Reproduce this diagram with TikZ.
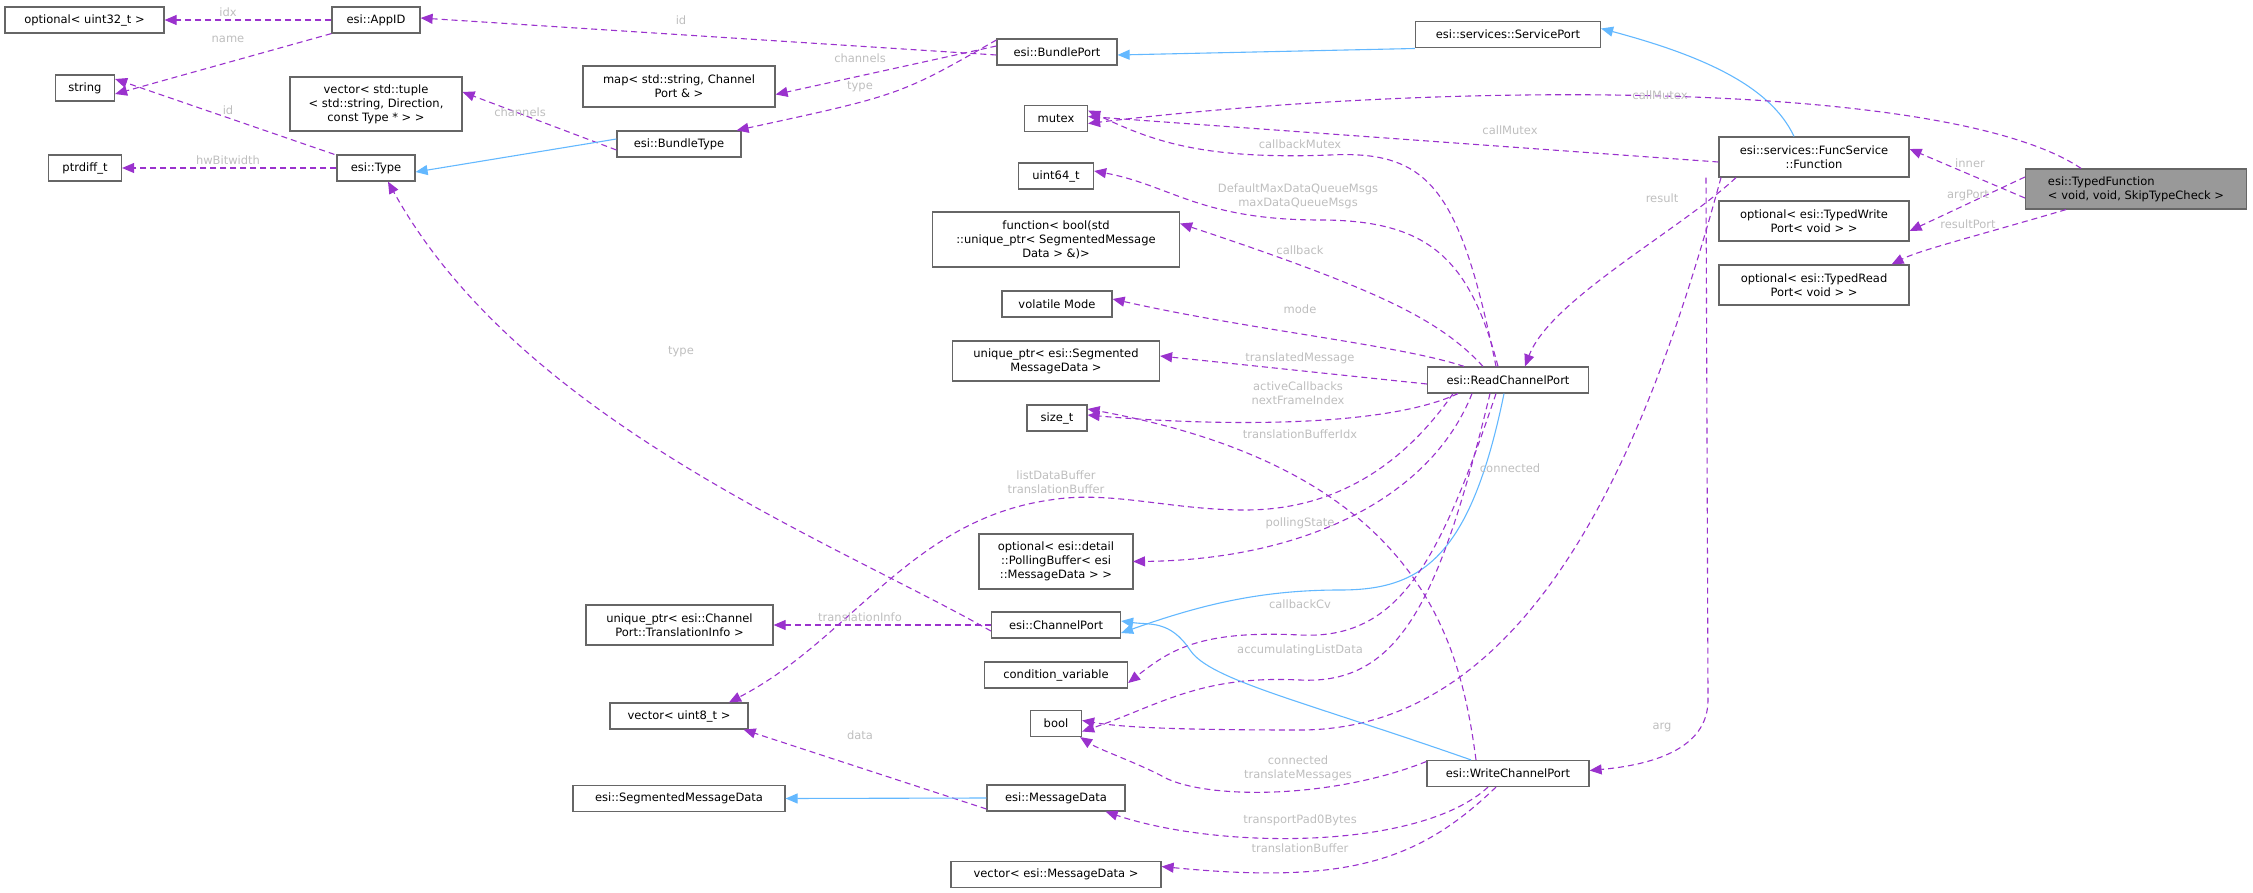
\documentclass[tikz,border=0pt]{standalone}
\usepackage{fontspec}
\setmainfont{DejaVu Sans}
\usetikzlibrary{arrows.meta}
\definecolor{dep}{HTML}{9A32CD}
\definecolor{inh}{HTML}{63B8FF}
\definecolor{lbl}{HTML}{BEBEBE}
\begin{document}
\begin{tikzpicture}[x=1pt,y=-1pt,
  box/.style={draw=black!60, fill=white, line width=1.2pt, font=\fontsize{11.5}{14}\selectfont, align=center, inner sep=0pt},
  dep/.style={draw=dep, dashed, dash pattern=on 6pt off 4pt, line width=1.1pt, -{Triangle[length=12pt,width=10pt]}},
  inh/.style={draw=inh, line width=1.1pt, -{Triangle[length=12pt,width=10pt]}},
  lab/.style={text=lbl, font=\fontsize{11.5}{14}\selectfont, align=center, inner sep=0pt}]
\useasboundingbox (0,0) rectangle (2253,893);
% nodes
\node[box, minimum width=159, minimum height=26] (optU32) at (84.5,20) {optional< uint32\_t >};
\node[box, minimum width=88, minimum height=26] (appid) at (376,20) {esi::AppID};
\node[box, minimum width=59, minimum height=26] (string) at (85,88) {string};
\node[box, minimum width=172, minimum height=54] (vectuple) at (376,104) {vector< std::tuple\\< std::string, Direction,\\const Type * > >};
\node[box, minimum width=192, minimum height=41] (mapstr) at (679,86.5) {map< std::string, Channel\\Port \& >};
\node[box, minimum width=124, minimum height=26] (bundletype) at (679,144) {esi::BundleType};
\node[box, minimum width=73, minimum height=26] (ptrdiff) at (85,168) {ptrdiff\_t};
\node[box, minimum width=78, minimum height=26] (type) at (376,168) {esi::Type};
\node[box, minimum width=187, minimum height=40] (uniqTI) at (679.5,625) {unique\_ptr< esi::Channel\\Port::TranslationInfo >};
\node[box, minimum width=138, minimum height=26] (vecu8) at (679,716) {vector< uint8\_t >};
\node[box, minimum width=212, minimum height=26] (segmsg) at (679,798.5) {esi::SegmentedMessageData};
\node[box, minimum width=120, minimum height=26] (bundleport) at (1057,52) {esi::BundlePort};
\node[box, minimum width=185, minimum height=26] (serviceport) at (1508,34.5) {esi::services::ServicePort};
\node[box, minimum width=63, minimum height=26] (mutex) at (1056,118.5) {mutex};
\node[box, minimum width=190, minimum height=40] (funcfn) at (1814,157) {esi::services::FuncService\\::Function};
\node[box, minimum width=221, minimum height=40, fill=black!40, align=left] (typedfn) at (2136,189) {esi::TypedFunction\\< void, void, SkipTypeCheck >};
\node[box, minimum width=190, minimum height=40] (optTW) at (1814,221) {optional< esi::TypedWrite\\Port< void > >};
\node[box, minimum width=190, minimum height=40] (optTR) at (1814,285) {optional< esi::TypedRead\\Port< void > >};
\node[box, minimum width=75, minimum height=26] (uint64) at (1056,176) {uint64\_t};
\node[box, minimum width=247, minimum height=55] (function) at (1056,239.5) {function< bool(std\\::unique\_ptr< SegmentedMessage\\Data > \&)>};
\node[box, minimum width=110, minimum height=26] (volatile) at (1057,304) {volatile Mode};
\node[box, minimum width=207, minimum height=40] (uniqSeg) at (1056,361) {unique\_ptr< esi::Segmented\\MessageData >};
\node[box, minimum width=60, minimum height=26] (sizet) at (1057,418) {size\_t};
\node[box, minimum width=161, minimum height=26] (readch) at (1508,380) {esi::ReadChannelPort};
\node[box, minimum width=154, minimum height=55] (optPoll) at (1056,561.5) {optional< esi::detail\\::PollingBuffer< esi\\::MessageData > >};
\node[box, minimum width=129, minimum height=26] (chport) at (1056,625) {esi::ChannelPort};
\node[box, minimum width=143, minimum height=26] (condvar) at (1056,675) {condition\_variable};
\node[box, minimum width=51, minimum height=26] (bool) at (1056,723.5) {bool};
\node[box, minimum width=138, minimum height=26] (msgdata) at (1056,798) {esi::MessageData};
\node[box, minimum width=210, minimum height=26] (vecmsg) at (1056,874.5) {vector< esi::MessageData >};
\node[box, minimum width=162, minimum height=26] (writech) at (1508,773.5) {esi::WriteChannelPort};
% edges
\draw[dep] (appid.west) -- (optU32.east);
\draw[dep] (appid.south west) -- ([yshift=-6]string.east);
\draw[dep] ([yshift=-3]bundleport.west) -- ([yshift=2]appid.east);
\draw[dep] ([yshift=6]bundleport.west) -- ([yshift=-8]mapstr.east);
\draw[dep] ([yshift=12]bundleport.west) .. controls (900,95) .. ([xshift=-5]bundletype.north east);
\draw[dep] ([yshift=-6]bundletype.west) -- ([yshift=12]vectuple.east);
\draw[inh] ([yshift=5]bundletype.west) -- ([yshift=-4]type.east);
\draw[dep] ([xshift=-2]type.north west) -- ([yshift=9]string.east);
\draw[dep] (type.west) -- (ptrdiff.east);
\draw[inh] ([yshift=-14]serviceport.west) -- ([yshift=-3]bundleport.east);
\draw[inh] ([xshift=-20]funcfn.north) .. controls (1770,85) and (1700,55) .. ([yshift=6]serviceport.east);
\draw[dep] ([xshift=-55]typedfn.north) .. controls (1950,80) and (1450,80) .. ([yshift=-5]mutex.east);
\draw[dep] ([yshift=-5]funcfn.west) -- ([yshift=2]mutex.east);
\draw[dep] ([xshift=-12]readch.north) .. controls (1460,190) and (1430,150) .. (1330,155) .. controls (1200,160) and (1150,140) .. ([yshift=8]mutex.east);
\draw[dep] ([xshift=-10]readch.north) .. controls (1470,260) and (1430,220) .. (1320,220) .. controls (1200,220) and (1170,185) .. ([yshift=5]uint64.east);
\draw[dep] ([xshift=-25]readch.north) .. controls (1440,320) and (1380,290) .. ([yshift=16]function.east);
\draw[dep] ([xshift=-44]readch.north) .. controls (1400,345) and (1250,330) .. ([yshift=5]volatile.east);
\draw[dep] ([yshift=-4]readch.west) -- ([yshift=5]uniqSeg.east);
\draw[dep] ([xshift=-50]readch.south) .. controls (1380,430) and (1200,425) .. ([yshift=3]sizet.east);
\draw[dep] ([xshift=-32]writech.north) .. controls (1460,640) and (1420,470) .. ([yshift=9]sizet.east);
\draw[dep] ([xshift=-55]readch.south) .. controls (1400,470) and (1330,510) .. (1245,510) .. controls (1170,510) and (1110,490) .. (1050,500) .. controls (910,520) and (850,640) .. ([xshift=50]vecu8.north);
\draw[dep] ([xshift=-36]readch.south) .. controls (1430,500) and (1300,560) .. (1133,561.5);
\draw[inh] ([xshift=-4]readch.south) .. controls (1470,560) and (1420,590) .. (1340,590) .. controls (1260,590) and (1200,605) .. ([yshift=-8]chport.east);
\draw[dep] ([yshift=-6]chport.west) .. controls (830,540) and (520,420) .. ([xshift=12]type.south);
\draw[dep] (chport.west) -- (uniqTI.east);
\draw[dep] ([xshift=-12]readch.south) .. controls (1440,560) and (1400,640) .. (1300,635) .. controls (1200,630) and (1170,650) .. ([yshift=-8]condvar.east);
\draw[dep] ([xshift=-18]readch.south) .. controls (1440,600) and (1400,685) .. (1300,680) .. controls (1200,675) and (1160,705) .. ([yshift=-8]bool.east);
\draw[dep] ([xshift=-93]funcfn.south) .. controls (1660,400) and (1550,730) .. (1300,730) .. controls (1170,730) and (1120,727) .. ([yshift=3]bool.east);
\draw[dep] ([yshift=12]writech.west) .. controls (1330,800) and (1200,800) .. (1160,775) .. controls (1130,760) and (1100,750) .. ([xshift=-2]bool.south east);
\draw[dep] ([xshift=-20]writech.south) .. controls (1420,850) and (1220,850) .. ([xshift=-20]msgdata.south east);
\draw[dep] ([xshift=-12]writech.south) .. controls (1420,860) and (1350,885) .. ([yshift=8]vecmsg.east);
\draw[dep] ([yshift=-11]msgdata.west) -- ([xshift=-5]vecu8.south east);
\draw[inh] (msgdata.west) -- (segmsg.east);
\draw[inh] ([xshift=-37]writech.north) .. controls (1300,700) and (1210,680) .. (1190,650) .. controls (1170,620) and (1150,625) .. ([yshift=4]chport.east);
\draw[dep] ([xshift=-78]funcfn.south) .. controls (1680,230) and (1550,300) .. ([xshift=17]readch.north);
\draw[dep] ([xshift=-108]funcfn.south) -- (1708,700) .. controls (1708,750) and (1650,765) .. ([yshift=3]writech.east);
\draw[dep] ([yshift=-9]typedfn.west) -- ([yshift=8]funcfn.east);
\draw[dep] ([yshift=12]typedfn.west) -- ([yshift=-10]optTW.east);
\draw[dep] ([xshift=-70]typedfn.south) .. controls (1980,235) and (1920,250) .. ([xshift=-18]optTR.north east);
% labels
\node[lab] (l1) at (228,12) {idx};
\node[lab] (l2) at (228,39) {name};
\node[lab] (l3) at (681,20) {id};
\node[lab] (l4) at (860,58) {channels};
\node[lab] (l5) at (860,87) {type};
\node[lab] (l6) at (520,112) {channels};
\node[lab] (l7) at (228,110) {id};
\node[lab] (l8) at (228,160) {hwBitwidth};
\node[lab] (l9) at (1660,95) {callMutex};
\node[lab] (l10) at (1510,130) {callMutex};
\node[lab] (l11) at (1300,144) {callbackMutex};
\node[lab] (l12) at (1298,196) {DefaultMaxDataQueueMsgs\\maxDataQueueMsgs};
\node[lab] (l13) at (1300,250) {callback};
\node[lab] (l14) at (1300,309) {mode};
\node[lab] (l15) at (1300,358) {translatedMessage};
\node[lab] (l16) at (1298,393) {activeCallbacks\\nextFrameIndex};
\node[lab] (l17) at (1300,434) {translationBufferIdx};
\node[lab] (l18) at (1056,482) {listDataBuffer\\translationBuffer};
\node[lab] (l19) at (1300,523) {pollingState};
\node[lab] (l20) at (681,352) {type};
\node[lab] (l21) at (860,617) {translationInfo};
\node[lab] (l22) at (1300,604) {callbackCv};
\node[lab] (l23) at (1300,650) {accumulatingListData};
\node[lab] (l24) at (1510,468) {connected};
\node[lab] (l25) at (1298,768) {connected\\translateMessages};
\node[lab] (l26) at (1300,820) {transportPad0Bytes};
\node[lab] (l27) at (1300,848) {translationBuffer};
\node[lab] (l28) at (860,735) {data};
\node[lab] (l29) at (1662,198) {result};
\node[lab] (l30) at (1662,727) {arg};
\node[lab] (l31) at (1970,163) {inner};
\node[lab] (l32) at (1968,196) {argPort};
\node[lab] (l33) at (1968,224) {resultPort};
\end{tikzpicture}
\end{document}
